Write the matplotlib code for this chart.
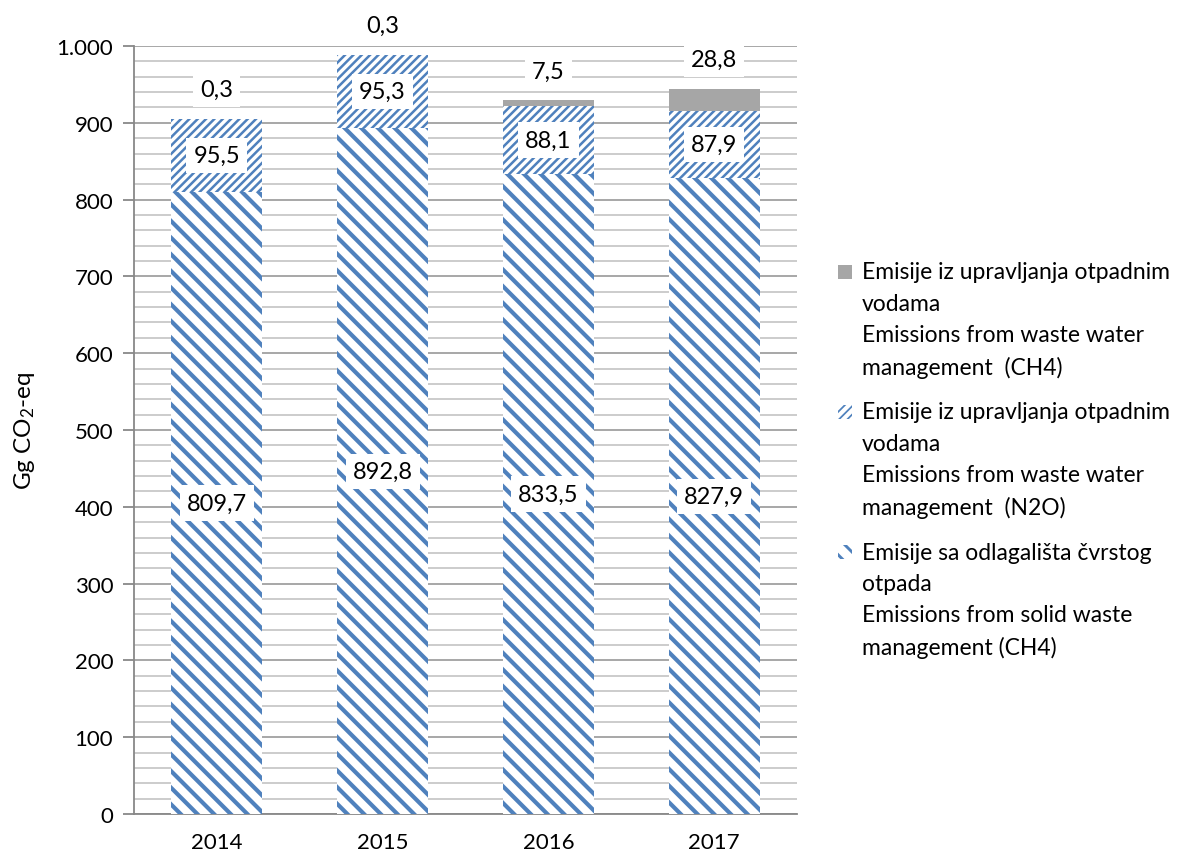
import matplotlib.pyplot as plt
import numpy as np
from matplotlib.patches import Rectangle
from matplotlib.ticker import MultipleLocator, FuncFormatter

plt.rcParams['font.family'] = ['Lato', 'DejaVu Sans']
plt.rcParams['mathtext.fontset'] = 'custom'
plt.rcParams['mathtext.rm'] = 'Lato'
plt.rcParams['mathtext.it'] = 'Lato:italic'
plt.rcParams['mathtext.bf'] = 'Lato:bold'

godine = ['2014', '2015', '2016', '2017']
cvrsti_otpad_ch4 = [809.7, 892.8, 833.5, 827.9]   # Emisije sa odlagališta čvrstog otpada
otpadne_vode_n2o = [95.5, 95.3, 88.1, 87.9]       # otpadne vode N2O
otpadne_vode_ch4 = [0.3, 0.3, 7.5, 28.8]          # otpadne vode CH4

oznake = [
    'Emisije sa odlagališta čvrstog\notpada\nEmissions from solid waste\nmanagement (CH4)',
    'Emisije iz upravljanja otpadnim\nvodama\nEmissions from waste water\nmanagement  (N2O)',
    'Emisije iz upravljanja otpadnim\nvodama\nEmissions from waste water\nmanagement  (CH4)',
]

plava = '#4F81BD'
siva = '#A6A6A6'
fs_tick = 16
fs_lab = 17
fs_leg = 16.5
W, H = 1187, 862

def fmt(v):
    return f'{v:.1f}'.replace('.', ',')

fig = plt.figure(figsize=(W / 100, H / 100), dpi=100)
ax = fig.add_axes([134 / W, 47 / H, 663 / W, 768 / H])

x = np.arange(len(godine))
w = 0.55
dno = np.array(cvrsti_otpad_ch4)
sredina = np.array(otpadne_vode_n2o)
vrh = np.array(otpadne_vode_ch4)

stil = [
    dict(color='white', edgecolor=plava, hatch='\\\\', linewidth=0, hlw=3.0),
    dict(color='white', edgecolor=plava, hatch='////', linewidth=0, hlw=1.8),
    dict(color=siva, edgecolor=siva, hatch=None, linewidth=0, hlw=1.0),
]

def nacrtaj(vrijednosti, dol, s):
    kw = {k: v for k, v in s.items() if k != 'hlw'}
    with plt.rc_context({'hatch.linewidth': s['hlw']}):
        b = ax.bar(x, vrijednosti, w, bottom=dol, zorder=3, **kw)
    for p in b.patches:
        try:
            p.set_hatch_linewidth(s['hlw'])
        except AttributeError:
            pass
    return b

b1 = nacrtaj(dno, 0, stil[0])
b2 = nacrtaj(sredina, dno, stil[1])
b3 = nacrtaj(vrh, dno + sredina, stil[2])

box = dict(boxstyle='square,pad=0.3', facecolor='white', edgecolor='none')
for i in range(len(godine)):
    ax.text(x[i], dno[i] / 2, fmt(dno[i]), ha='center', va='center', fontsize=fs_lab, bbox=box, zorder=5)
    ax.text(x[i], dno[i] + sredina[i] / 2, fmt(sredina[i]), ha='center', va='center', fontsize=fs_lab, bbox=box, zorder=5)
    ax.annotate(fmt(vrh[i]), (x[i], dno[i] + sredina[i] + vrh[i]), xytext=(0, 21), textcoords='offset points',
                ha='center', va='center', fontsize=fs_lab, bbox=box, zorder=5, annotation_clip=False)

ax.set_ylim(0, 1000)
ax.set_xlim(-0.5, len(godine) - 0.5)
ax.yaxis.set_major_locator(MultipleLocator(100))
ax.yaxis.set_minor_locator(MultipleLocator(20))
ax.yaxis.set_major_formatter(FuncFormatter(lambda v, p: f'{int(v):,}'.replace(',', '.')))
ax.grid(axis='y', which='minor', color='#C8C8C8', linewidth=1.3, zorder=0)
ax.grid(axis='y', which='major', color='#A0A0A0', linewidth=1.3, zorder=0)
ax.set_axisbelow(True)

ax.set_xticks(x)
ax.set_xticklabels(godine)
ax.tick_params(axis='x', length=0, labelsize=fs_tick, pad=13)
ax.tick_params(axis='y', which='major', length=8, width=1.3, color='#888888', labelsize=fs_tick, pad=7)
ax.tick_params(axis='y', which='minor', length=0)
for s in ('top', 'right'):
    ax.spines[s].set_visible(False)
for s in ('left', 'bottom'):
    ax.spines[s].set_color('#888888')
    ax.spines[s].set_linewidth(1.3)

ax.set_ylabel('Gg CO$_2$-eq', fontsize=17.5)
ax.yaxis.set_label_coords(-0.146, 0.5)

# legenda: rucno, da oznaka stoji uz prvi red teksta
y_prvi = [273, 413, 553]
korak = 31.5
for k, (tekst, s) in enumerate(zip(oznake[::-1], stil[::-1])):
    yc = y_prvi[k]
    r = Rectangle((838 / W, 1 - (yc + 7) / H), 14 / W, 14 / H, transform=fig.transFigure,
                  facecolor=s['color'], edgecolor=s['edgecolor'], hatch=s['hatch'], linewidth=0)
    try:
        r.set_hatch_linewidth(s['hlw'] * 0.7)
    except AttributeError:
        pass
    fig.add_artist(r)
    for j, red in enumerate(tekst.split('\n')):
        fig.text(862 / W, 1 - (yc + j * korak) / H, red, fontsize=fs_leg, va='center', ha='left')

fig.savefig('out.png', dpi=100)
